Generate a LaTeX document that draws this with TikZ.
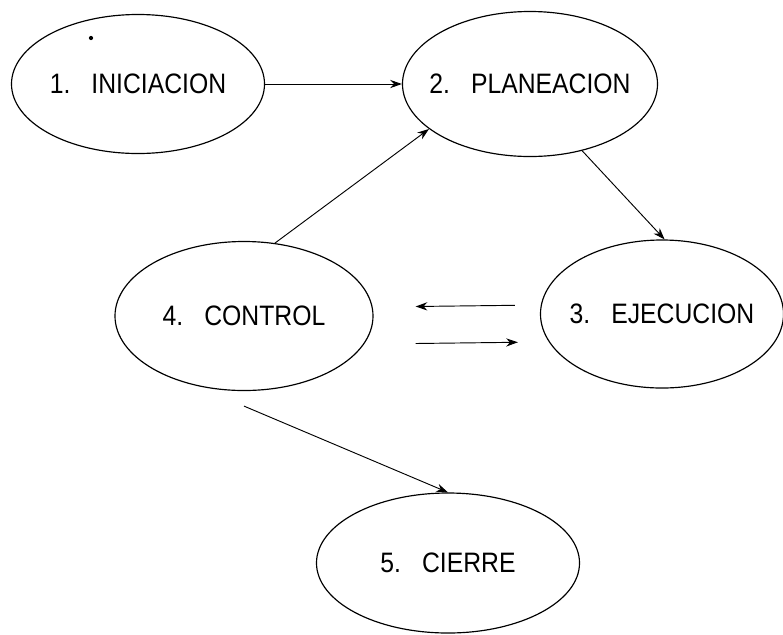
\documentclass[tikz,border=0pt]{standalone}
\usepackage{fontspec}
\setmainfont{Liberation Sans}
\newfontfamily\stagefont[FakeStretch=0.88]{Liberation Sans}
\usetikzlibrary{shapes,arrows.meta,positioning}

\begin{document}
\begin{tikzpicture}[
  x=0.03cm, y=-0.03cm,
  stage/.style={ellipse, draw=black, line width=1pt, inner sep=0pt, minimum width=7.6cm, minimum height=4.3cm},
  every label/.style={font=\stagefont\fontsize{24}{26}\selectfont},
  arrow/.style={line width=0.8pt, -{Stealth[length=10pt,width=7pt]}}
]
\useasboundingbox (0,0) rectangle (783,634);

% Etapas
\node (ini) [stage, minimum width=7.59cm, minimum height=4.17cm, label=center:{1.\enspace\ INICIACION}] at (138,84) {};
\node (plan) [stage, minimum width=7.65cm, minimum height=4.35cm, label=center:{2.\enspace\ PLANEACION}] at (530,84) {};
\node (ejec) [stage, minimum width=7.29cm, minimum height=4.44cm, label=center:{3.\enspace\ EJECUCION}] at (662,314) {};
\node (ctrl) [stage, minimum width=7.74cm, minimum height=4.47cm, label=center:{4.\enspace\ CONTROL}] at (244,316) {};
\node (cierre) [stage, minimum width=7.89cm, minimum height=4.2cm, label=center:{5.\enspace\ CIERRE}] at (448,563) {};

\fill (91,38) circle (1.8pt);

% Flujo
\draw [arrow] (ini) -- (plan);
\draw [arrow] (plan.-52) -- (ejec.88);
\draw [arrow] (ctrl.67) -- (plan.204);
\draw [arrow, shorten <=0.75cm, shorten >=1.26cm] ([yshift=0.27cm]ejec.west) -- ([yshift=0.27cm]ctrl.east);
\draw [arrow, shorten <=1.26cm, shorten >=0.66cm] ([yshift=-0.84cm]ctrl.east) -- ([yshift=-0.84cm]ejec.west);
\draw [arrow] ([yshift=-0.45cm]ctrl.south) -- (cierre.north);

\end{tikzpicture}
\end{document}
